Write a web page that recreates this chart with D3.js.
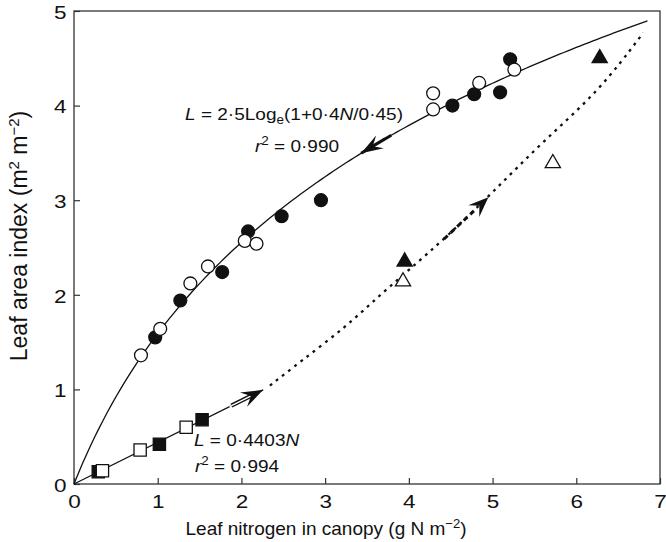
<!DOCTYPE html>
<html><head><meta charset="utf-8">
<script src="https://cdn.jsdelivr.net/npm/d3@7"></script>
<style>
body{margin:0;background:#fff}
svg{display:block}
text{font-family:"Liberation Sans",Arial,Helvetica,sans-serif;fill:#111}
</style>
</head><body>
<svg id="c" width="666" height="542"></svg>
<script>
// ---- data ----
const xTicks = [0,1,2,3,4,5,6,7];
const yTicks = [0,1,2,3,4,5];
const filledCircles = [[0.97,1.55],[1.27,1.94],[1.77,2.24],[2.08,2.67],[2.48,2.83],[2.95,3.00],[4.52,4.00],[4.78,4.12],[5.09,4.14],[5.21,4.49]];
const openCircles   = [[0.80,1.36],[1.03,1.64],[1.39,2.12],[1.60,2.30],[2.04,2.57],[2.18,2.54],[4.29,3.96],[4.29,4.13],[4.84,4.24],[5.26,4.38]];
const filledSquares = [[0.29,0.13],[1.02,0.42],[1.53,0.68]];
const openSquares   = [[0.34,0.14],[0.79,0.36],[1.34,0.60]];
const filledTriangles = [[3.95,2.35],[6.28,4.50]];
const openTriangles   = [[3.93,2.14],[5.72,3.39]];
const dottedLine = [[2.34,1.04],[2.70,1.29],[3.26,1.67],[3.62,1.97],[4.01,2.27],[4.46,2.62],[5.01,3.09],[5.60,3.62],[6.28,4.16],[6.80,4.77]];
const logFit = {a:2.5, b:0.4, c:0.45, nMax:6.85};   // L = 2.5 ln(1 + 0.4N/0.45)
const linFit = {slope:0.4403, nMax:2.26};           // L = 0.4403 N
const curveArrow  = {from:3.80, tip:3.43};          // along log fit (N)
const linArrow    = {from:1.88, tip:2.26};          // along linear fit (N)
const dottedArrow = {from:[4.42,2.59], tip:[4.95,3.03]};

// ---- scales ----
const svg = d3.select("#c");
const x = d3.scaleLinear().domain([0,7]).range([74,660]);
const y = d3.scaleLinear().domain([0,5]).range([484,11]);
const logF = n => logFit.a*Math.log(1+logFit.b*n/logFit.c);

// frame
svg.append("rect").attr("x",x(0)).attr("y",y(5)).attr("width",x(7)-x(0)).attr("height",y(0)-y(5))
  .attr("fill","none").attr("stroke","#333").attr("stroke-width",1.3);

// axes with inward ticks
const xAxis = d3.axisBottom(x).tickValues(xTicks).tickSize(-6).tickPadding(9).tickFormat(d3.format("d"));
const gx = svg.append("g").attr("transform",`translate(0,${y(0)})`).call(xAxis);
const yAxis = d3.axisLeft(y).tickValues(yTicks).tickSize(-6).tickPadding(6).tickFormat(d3.format("d"));
const gy = svg.append("g").attr("transform",`translate(${x(0)},0)`).call(yAxis);
[gx,gy].forEach(g=>{
  g.select(".domain").remove();
  g.selectAll(".tick line").attr("stroke","#333").attr("stroke-width",1.2);
  g.selectAll(".tick text").attr("font-size",18).attr("fill","#111")
   .style("font-family",'"Liberation Sans",Arial,sans-serif')
   .attr("transform","scale(1.25,1)");
});
gx.selectAll(".tick text").attr("dy","0.85em");
gy.selectAll(".tick text").attr("dy","0.4em");

// axis titles
const xt = svg.append("text").attr("x",326).attr("y",535).attr("text-anchor","middle").attr("font-size",19);
xt.append("tspan").text("Leaf nitrogen in canopy (g N m");
xt.append("tspan").attr("dy",-7).attr("font-size",13).text("\u22122");
xt.append("tspan").attr("dy",7).text(")");

const yt = svg.append("text").attr("transform","translate(27,236) rotate(-90)").attr("text-anchor","middle").attr("font-size",23);
yt.append("tspan").text("Leaf area index (m");
yt.append("tspan").attr("dy",-8).attr("font-size",15).text("2");
yt.append("tspan").attr("dy",8).text(" m");
yt.append("tspan").attr("dy",-8).attr("font-size",15).text("\u22122");
yt.append("tspan").attr("dy",8).text(")");

// log fit curve
const line = d3.line().x(d=>x(d[0])).y(d=>y(d[1]));
const logPts = d3.range(0, logFit.nMax+1e-9, 0.05).map(n=>[n, logF(n)]);
svg.append("path").attr("d",line(logPts)).attr("fill","none").attr("stroke","#111").attr("stroke-width",1.3);

// linear fit
svg.append("path").attr("d",line([[0,0],[linFit.nMax, linFit.slope*linFit.nMax]]))
  .attr("fill","none").attr("stroke","#111").attr("stroke-width",1.3);

// dotted extension
svg.append("path").attr("d",d3.line().x(d=>x(d[0])).y(d=>y(d[1])).curve(d3.curveBasis)(dottedLine))
  .attr("fill","none").attr("stroke","#111").attr("stroke-width",2.3).attr("stroke-dasharray","2.8,5");

// arrowhead helper (pixel tip, direction vector)
function head(tx,ty,dx,dy,len,half){
  const l=Math.hypot(dx,dy); dx/=l; dy/=l;
  const px=-dy, py=dx;
  const bx=tx-dx*len, by=ty-dy*len;
  const nx=tx-dx*len*0.62, ny=ty-dy*len*0.62;
  return `M${tx},${ty}L${bx+px*half},${by+py*half}L${nx},${ny}L${bx-px*half},${by-py*half}Z`;
}
// curve arrow (pointing to lower N)
const cPts = d3.range(curveArrow.tip, curveArrow.from+1e-9, 0.02).map(n=>[n,logF(n)]);
svg.append("path").attr("d",line(cPts)).attr("fill","none").attr("stroke","#111").attr("stroke-width",3);
{
  const t=[x(curveArrow.tip),y(logF(curveArrow.tip))], b=[x(curveArrow.tip+0.25),y(logF(curveArrow.tip+0.25))];
  svg.append("path").attr("d",head(t[0],t[1],t[0]-b[0],t[1]-b[1],22,7.5)).attr("fill","#111");
}
// linear arrow (double shaft)
{
  const a=[x(linArrow.from),y(linFit.slope*linArrow.from)], t=[x(linArrow.tip),y(linFit.slope*linArrow.tip)];
  const dx=t[0]-a[0], dy=t[1]-a[1], l=Math.hypot(dx,dy);
  const sx=t[0]-dx/l*12, sy=t[1]-dy/l*12;
  svg.append("line").attr("x1",a[0]).attr("y1",a[1]).attr("x2",sx).attr("y2",sy).attr("stroke","#111").attr("stroke-width",4.2);
  svg.append("line").attr("x1",a[0]-dx/l*2).attr("y1",a[1]-dy/l*2).attr("x2",sx-dx/l*2).attr("y2",sy-dy/l*2).attr("stroke","#fff").attr("stroke-width",1.4);
  svg.append("path").attr("d",head(t[0],t[1],dx,dy,22,8)).attr("fill","#111");
}
// dotted arrow
{
  const a=[x(dottedArrow.from[0]),y(dottedArrow.from[1])], t=[x(dottedArrow.tip[0]),y(dottedArrow.tip[1])];
  svg.append("line").attr("x1",a[0]).attr("y1",a[1]).attr("x2",t[0]-(t[0]-a[0])*0.3).attr("y2",t[1]-(t[1]-a[1])*0.3)
    .attr("stroke","#111").attr("stroke-width",3).attr("stroke-dasharray","5,4");
  svg.append("path").attr("d",head(t[0],t[1],t[0]-a[0],t[1]-a[1],20,8)).attr("fill","#111");
}

// markers
const sym = (type,size)=>d3.symbol().type(type).size(size)();
function markers(data,type,size,filled){
  svg.append("g").selectAll("path").data(data).join("path")
    .attr("transform",d=>`translate(${x(d[0])},${y(d[1])})`)
    .attr("d",sym(type,size))
    .attr("fill",filled?"#111":"#fff").attr("stroke","#111").attr("stroke-width",1.3);
}
markers(filledCircles,d3.symbolCircle,130,true);
markers(openCircles,d3.symbolCircle,130,false);
markers(filledSquares,d3.symbolSquare,150,true);
markers(openSquares,d3.symbolSquare,150,false);
markers(filledTriangles,d3.symbolTriangle,100,true);
markers(openTriangles,d3.symbolTriangle,100,false);

// equation labels (slightly widened like the reference typeface)
function label(px,py,anchor){
  return svg.append("g").attr("transform",`translate(${px},${py}) scale(1.12,1)`)
    .append("text").attr("text-anchor",anchor).attr("font-size",17);
}
const e1 = label(294,120,"middle");
e1.append("tspan").attr("font-style","italic").text("L");
e1.append("tspan").text(" = 2\u00B75Log");
e1.append("tspan").attr("dy",4).attr("font-size",12).text("e");
e1.append("tspan").attr("dy",-4).text("(1+0\u00B74");
e1.append("tspan").attr("font-style","italic").text("N");
e1.append("tspan").text("/0\u00B745)");
const r1 = label(297,152,"middle");
r1.append("tspan").attr("font-style","italic").text("r");
r1.append("tspan").attr("dy",-7).attr("font-size",12).text("2");
r1.append("tspan").attr("dy",7).text(" = 0\u00B7990");

const e2 = label(194,446,"start");
e2.append("tspan").attr("font-style","italic").text("L");
e2.append("tspan").text(" = 0\u00B74403");
e2.append("tspan").attr("font-style","italic").text("N");
const r2 = label(195,472,"start");
r2.append("tspan").attr("font-style","italic").text("r");
r2.append("tspan").attr("dy",-7).attr("font-size",12).text("2");
r2.append("tspan").attr("dy",7).text(" = 0\u00B7994");
</script>
</body></html>
